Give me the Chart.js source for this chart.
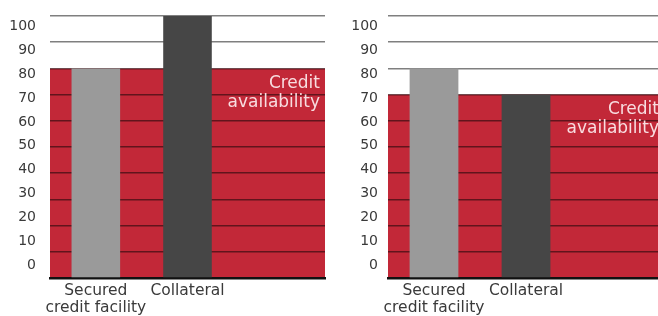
<!DOCTYPE html>
<html>
<head>
<meta charset="utf-8">
<script src="https://cdn.jsdelivr.net/npm/chart.js@4"></script>
<style>
  html, body { margin: 0; padding: 0; background: #fff; overflow: hidden; }
  #wrap { position: relative; width: 658px; height: 316px; overflow: hidden; }
  .panel { position: absolute; top: 0; }
</style>
</head>
<body>
<div id="wrap">
  <div class="panel" style="left:0px"><canvas id="c1" width="329" height="316"></canvas></div>
  <div class="panel" style="left:330px"><canvas id="c2" width="336" height="316"></canvas></div>
</div>
<script>
// ---- data ----
const categories = [['Secured', 'credit facility'], 'Collateral', ''];
const leftPanelValues = [80, 100, null];
const rightPanelValues = [80, 70, null];
const creditAvailability = [80, 70];
const creditLabel = ['Credit', 'availability'];
const yTickLabels = [0, 10, 20, 30, 40, 50, 60, 70, 80, 90, 100];
const barColors = ['#9a9a9a', '#464646', '#464646'];
const areaColor = '#c22838';

const FONT = '"DejaVu Sans", "Liberation Sans", sans-serif';

const creditTextPlugin = {
  id: 'creditText',
  afterDatasetsDraw(chart, args, opts) {
    const ctx = chart.ctx;
    const yScale = chart.scales.y;
    const top = yScale.getPixelForValue(opts.value);
    const right = chart.chartArea.right - opts.inset;
    ctx.save();
    ctx.fillStyle = '#f8dde0';
    ctx.font = '17px ' + FONT;
    ctx.textAlign = 'right';
    ctx.textBaseline = 'middle';
    ctx.fillText(creditLabel[0], right, top + 15);
    ctx.fillText(creditLabel[1], right, top + 34);
    ctx.restore();
  }
};

function noPad(s) { s.paddingTop = 0; s.paddingBottom = 0; s.paddingLeft = 0; s.paddingRight = 0; }

function makeChart(id, values, area, axisWidth, labelPad, padRight) {
  return new Chart(document.getElementById(id), {
    type: 'bar',
    data: {
      labels: categories,
      datasets: [
        {
          type: 'line',
          xAxisID: 'xf',
          yAxisID: 'y',
          data: [{x: 0, y: area}, {x: 1, y: area}],
          fill: 'origin',
          backgroundColor: areaColor,
          borderWidth: 0,
          pointRadius: 0,
          order: 2
        },
        {
          type: 'bar',
          xAxisID: 'x',
          yAxisID: 'y',
          data: values,
          backgroundColor: barColors,
          borderWidth: 0,
          grouped: false,
          categoryPercentage: 1,
          barPercentage: 0.53,
          order: 1
        }
      ]
    },
    options: {
      responsive: false,
      animation: false,
      events: [],
      layout: { padding: { top: 16, right: padRight, left: 0, bottom: 0 } },
      plugins: {
        legend: { display: false },
        tooltip: { enabled: false },
        filler: { drawTime: 'beforeDraw' },
        creditText: { value: area, inset: 5 }
      },
      scales: {
        x: {
          type: 'category',
          position: 'bottom',
          offset: true,
          z: 1,
          grid: { display: false, drawTicks: false, offset: true },
          border: { display: true, color: '#111', width: 2.5 },
          ticks: {
            color: '#3a3a3a',
            font: { family: FONT, size: 15.5, lineHeight: 1.1 },
            padding: 4,
            maxRotation: 0,
            autoSkip: false
          },
          afterFit(s) { s.height = 38; noPad(s); }
        },
        xf: {
          type: 'linear',
          display: false,
          offset: false,
          grid: { offset: false },
          min: 0,
          max: 1
        },
        y: {
          type: 'linear',
          position: 'left',
          min: 0,
          max: 100,
          ticks: { display: false, stepSize: 10 },
          grid: { color: 'rgba(0,0,0,0.5)', lineWidth: 1.5, drawTicks: false },
          border: { display: false },
          afterFit(s) { s.width = 0; noPad(s); }
        },
        yl: {
          type: 'linear',
          position: 'left',
          min: -5.5,
          max: 104.5,
          grid: { display: false, drawTicks: false },
          border: { display: false },
          ticks: {
            color: '#3a3a3a',
            font: { family: FONT, size: 14 },
            padding: labelPad
          },
          afterBuildTicks(s) { s.ticks = yTickLabels.map(v => ({ value: v })); },
          afterFit(s) { s.width = axisWidth; noPad(s); }
        }
      }
    },
    plugins: [creditTextPlugin]
  });
}

makeChart('c1', leftPanelValues, creditAvailability[0], 50, 14, 4);
makeChart('c2', rightPanelValues, creditAvailability[1], 58, 10, 2);
</script>
</body>
</html>
